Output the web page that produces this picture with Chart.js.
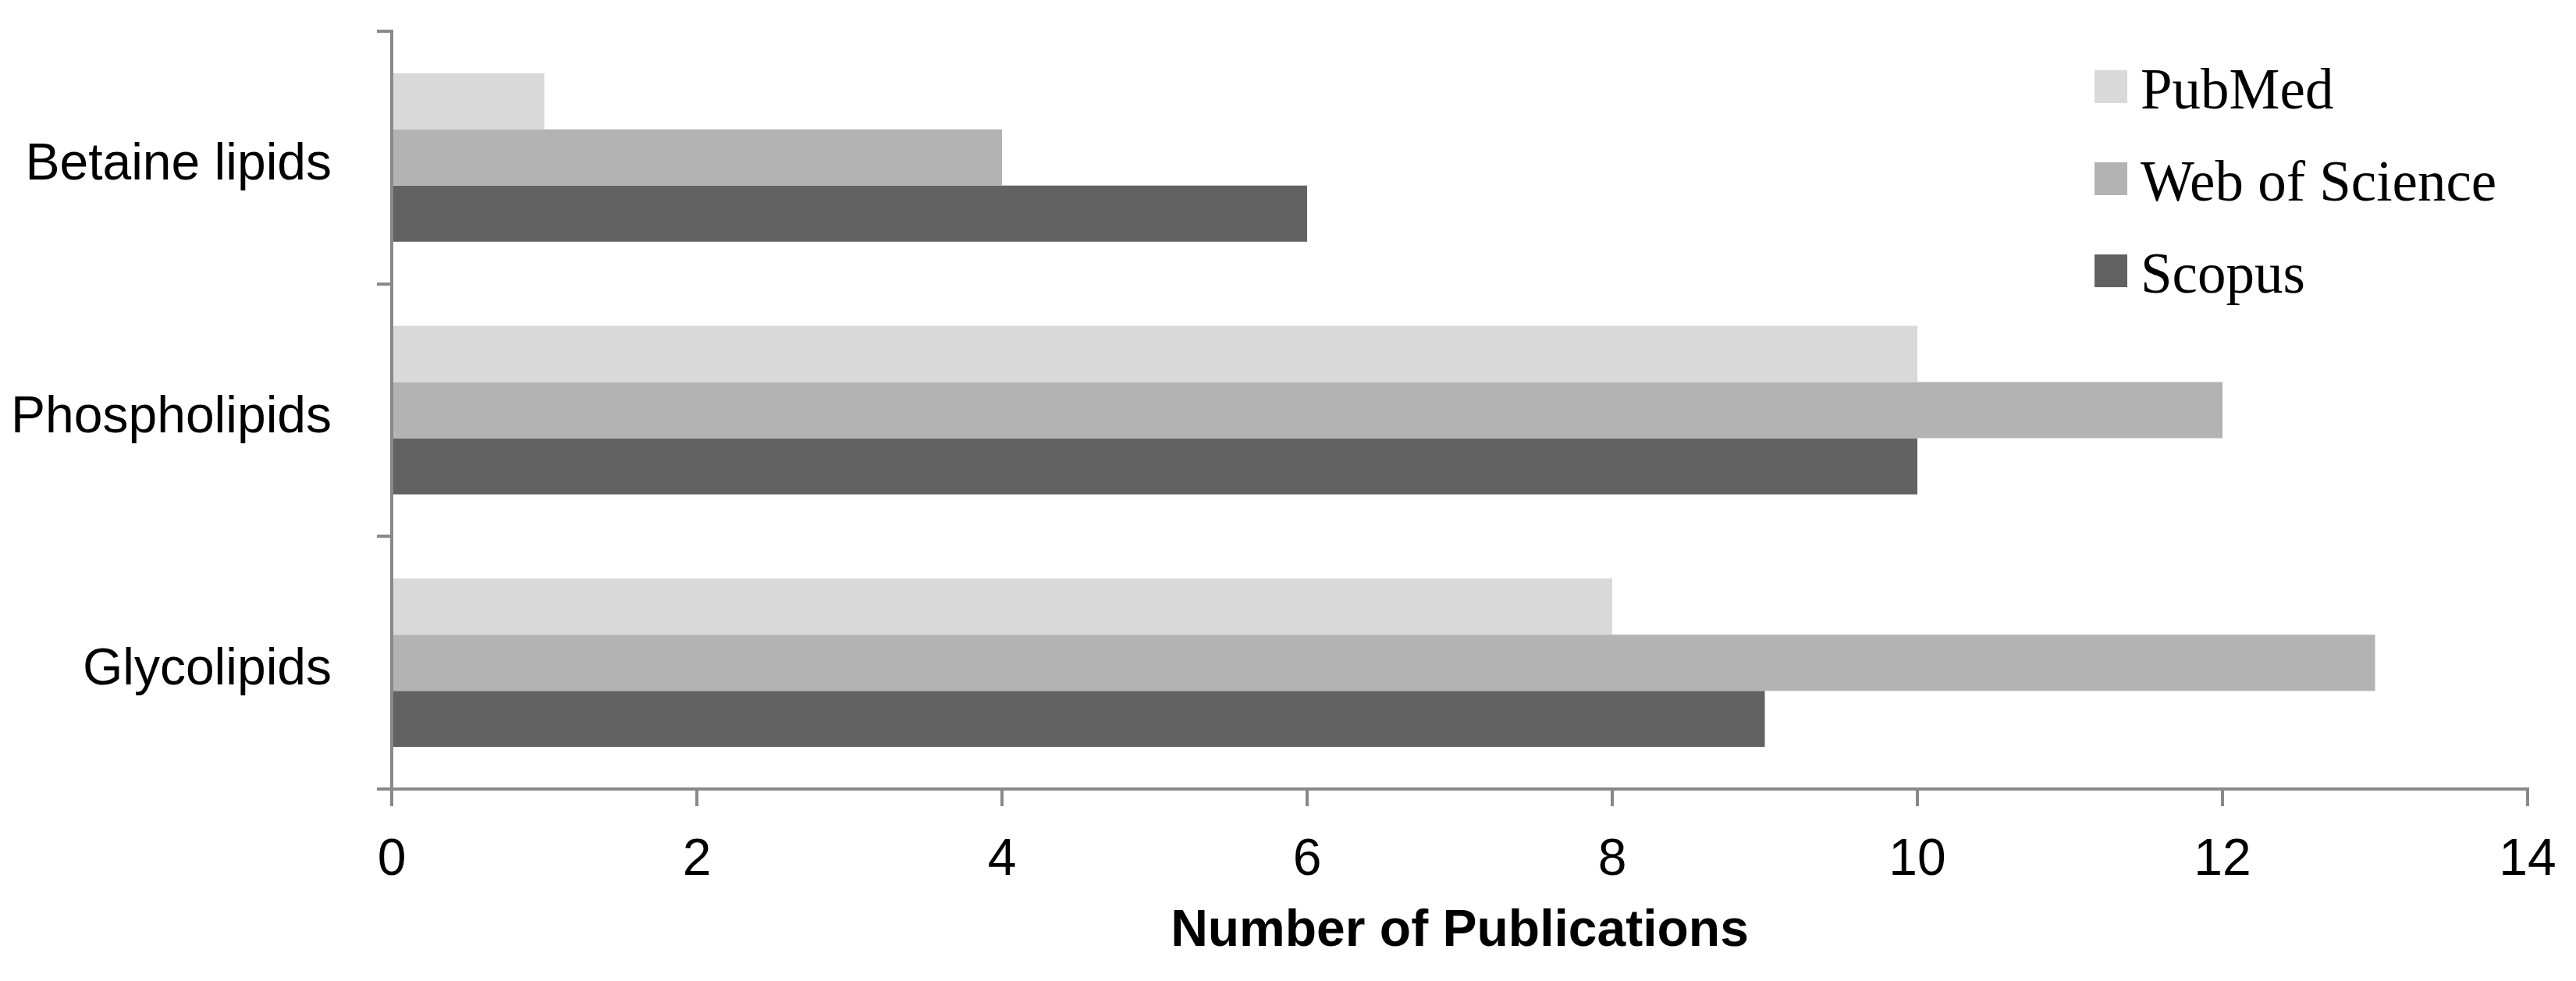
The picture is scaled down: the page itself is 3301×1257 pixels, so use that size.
<!DOCTYPE html>
<html lang="en">
<head>
<meta charset="UTF-8">
<title>Number of Publications</title>
<script src="https://cdn.jsdelivr.net/npm/chart.js"></script>
<style>
  html, body { margin: 0; padding: 0; background: #fff; }
  #wrap { width: 3301px; height: 1257px; }
</style>
</head>
<body>
<div id="wrap"><canvas id="chart" width="3301" height="1257"></canvas></div>
<script>
// Lipid classes, top to bottom
const categories = ['Betaine lipids', 'Phospholipids', 'Glycolipids'];

// Publications per database
const pubmed = [1, 10, 8];
const webOfScience = [4, 12, 13];
const scopus = [6, 10, 9];

const seriesNames = ['PubMed', 'Web of Science', 'Scopus'];
const seriesColors = ['#d9d9d9', '#b3b3b3', '#626262'];

const axisColor = '#898989';

// legend drawn in the top right corner of the plot, Excel style
const cornerLegend = {
  id: 'cornerLegend',
  afterDraw(chart) {
    const ctx = chart.ctx;
    ctx.save();
    ctx.font = '73px "Liberation Serif"';
    ctx.textAlign = 'left';
    ctx.textBaseline = 'alphabetic';
    chart.data.datasets.forEach((ds, i) => {
      const top = 90 + i * 118;
      ctx.fillStyle = ds.backgroundColor;
      ctx.fillRect(2684, top, 42, 42);
      ctx.fillStyle = '#000';
      ctx.fillText(ds.label, 2743, top + 49);
    });
    ctx.restore();
  }
};

const ctx = document.getElementById('chart').getContext('2d');
new Chart(ctx, {
  type: 'bar',
  data: {
    labels: categories,
    datasets: [
      { label: seriesNames[0], data: pubmed, backgroundColor: seriesColors[0] },
      { label: seriesNames[1], data: webOfScience, backgroundColor: seriesColors[1] },
      { label: seriesNames[2], data: scopus, backgroundColor: seriesColors[2] }
    ]
  },
  options: {
    indexAxis: 'y',
    responsive: false,
    animation: false,
    devicePixelRatio: 1,
    layout: { padding: { top: 40, right: 62, bottom: 0, left: 0 } },
    datasets: {
      bar: { categoryPercentage: 0.667, barPercentage: 1, borderWidth: 0 }
    },
    plugins: {
      legend: { display: false },
      tooltip: { enabled: false }
    },
    scales: {
      x: {
        z: 1,
        min: 0,
        max: 14,
        ticks: {
          stepSize: 2,
          color: '#000',
          padding: 30,
          font: { family: '"Liberation Sans"', size: 66 }
        },
        grid: { drawOnChartArea: false, color: axisColor, lineWidth: 4, tickLength: 22 },
        border: { color: axisColor, width: 4 },
        title: {
          display: true,
          text: 'Number of Publications',
          color: '#000',
          padding: { top: 0, bottom: 30 },
          font: { family: '"Liberation Sans"', size: 66, weight: 'bold', lineHeight: 1 }
        },
        afterFit(scale) {
          scale.height = 246;
          scale.paddingLeft = 0;
          scale.paddingRight = 0;
        }
      },
      y: {
        z: 1,
        ticks: {
          color: '#000',
          padding: 58,
          labelOffset: 10,
          font: { family: '"Liberation Sans"', size: 66 }
        },
        grid: { drawOnChartArea: false, offset: true, color: axisColor, lineWidth: 4, tickLength: 19 },
        border: { color: axisColor, width: 4 },
        afterFit(scale) {
          scale.width = 502;
          scale.paddingTop = 0;
          scale.paddingBottom = 0;
        }
      }
    }
  },
  plugins: [cornerLegend]
});
</script>
</body>
</html>
